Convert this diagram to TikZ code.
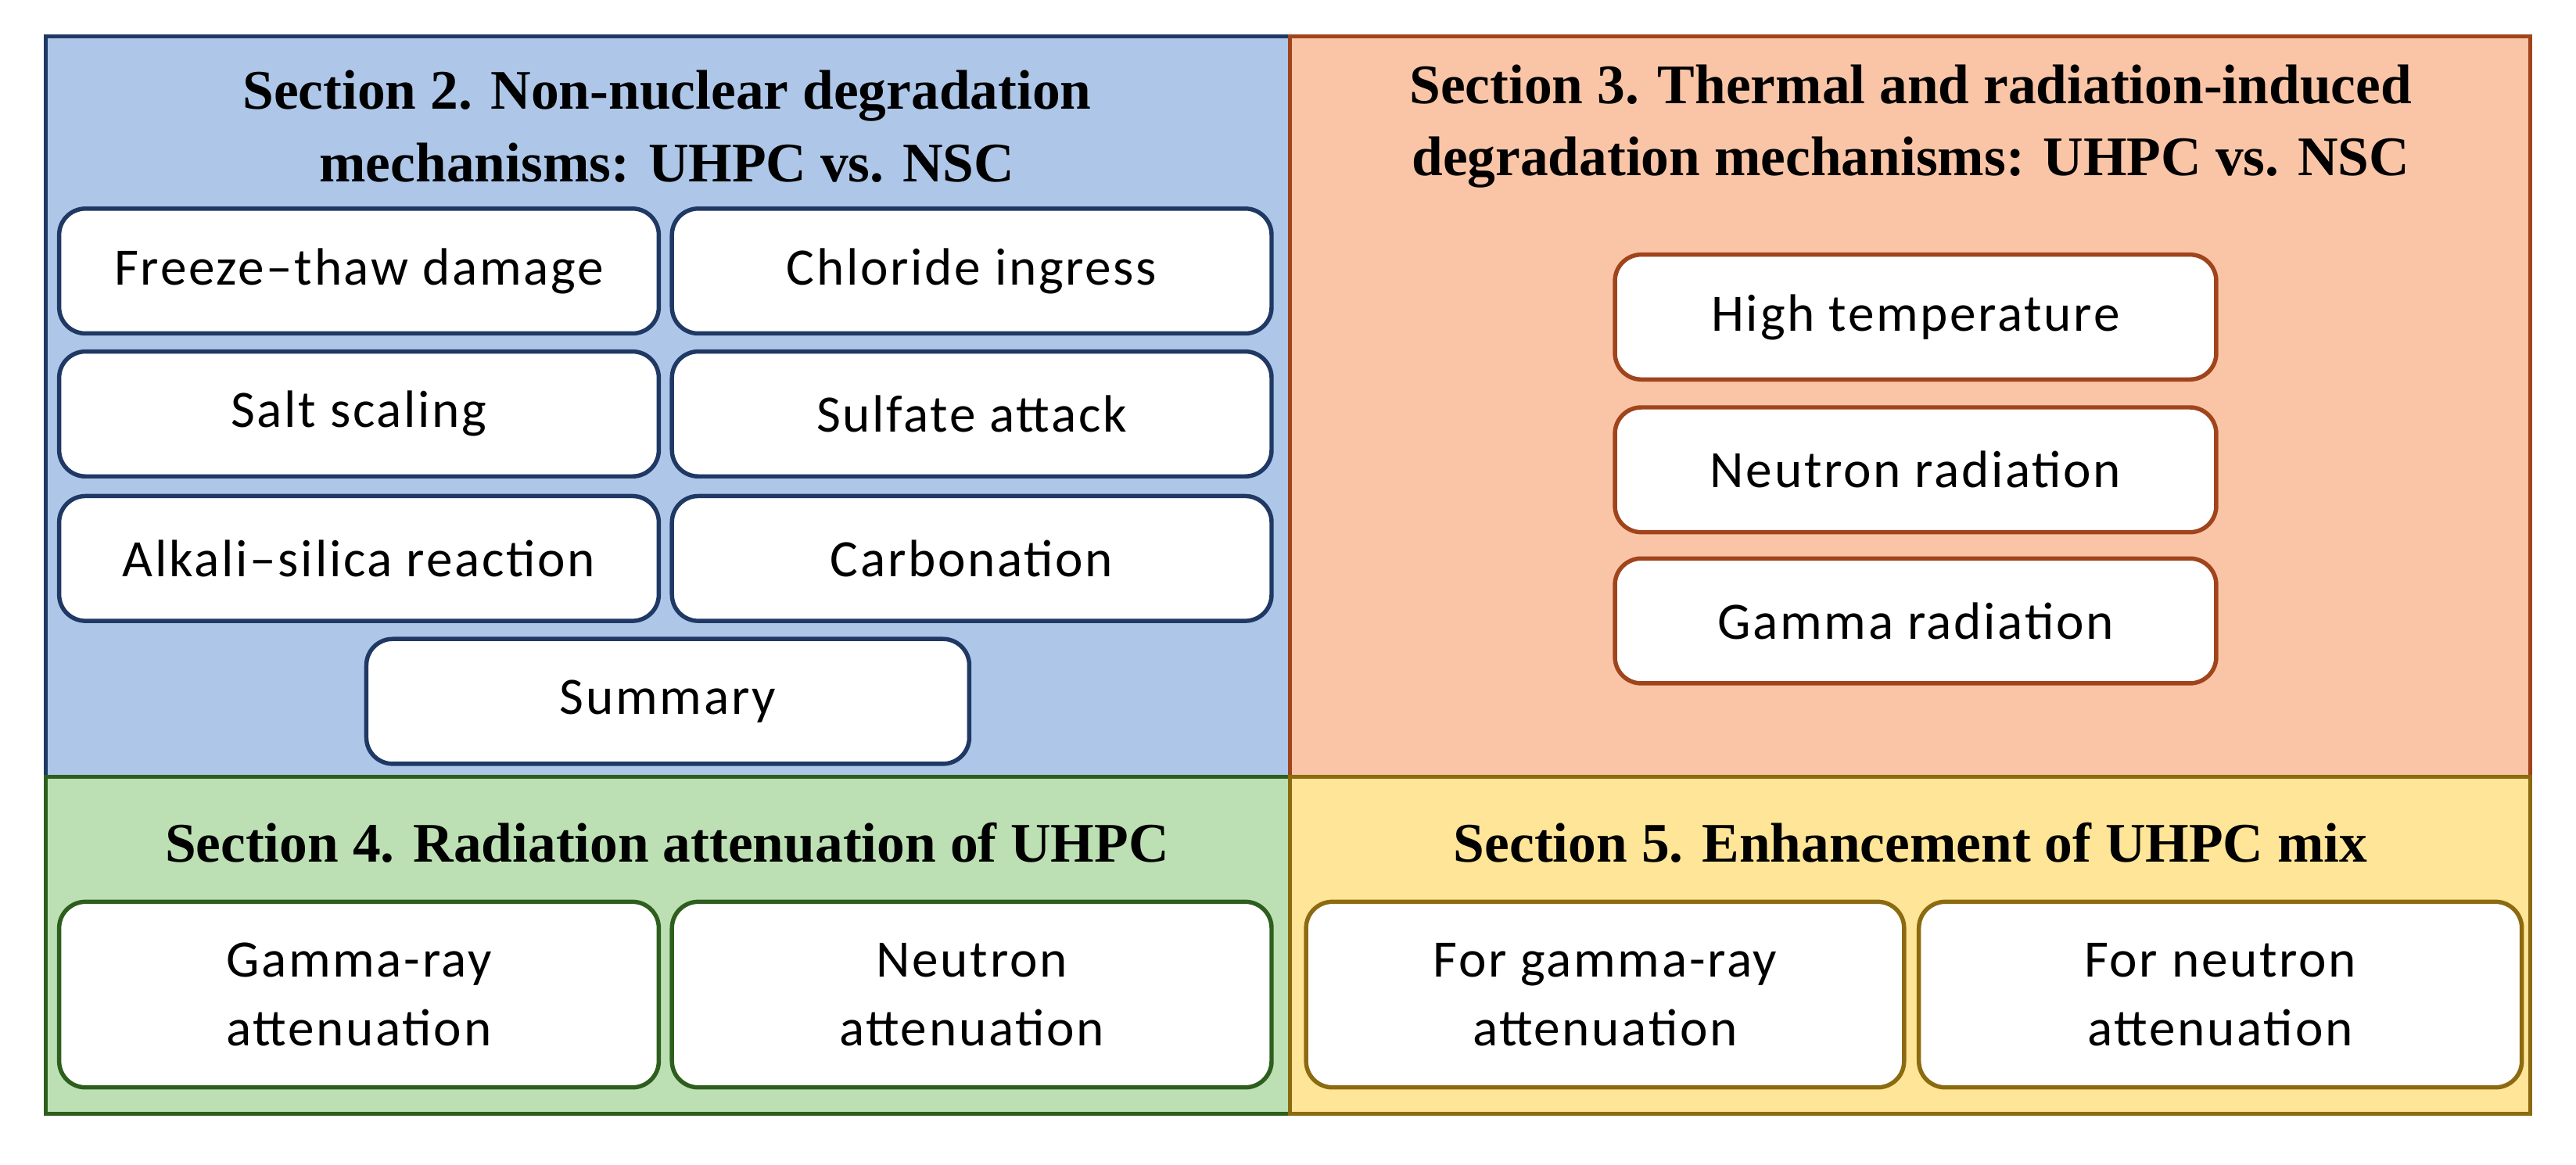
\documentclass[tikz,border=0pt]{standalone}
\usepackage{fontspec}
\setmainfont{Liberation Serif}
\newfontfamily\bodyf{Carlito}[LetterSpace=4]
\begin{document}
\begin{tikzpicture}[x=0.5pt,y=-0.5pt,
 panel/.style={draw=#1,line width=1.2pt},
 box/.style={draw=#1,fill=white,rounded corners=8pt,line width=1.3pt},
 btxt/.style={font=\bodyf\fontsize{16}{21}\selectfont,align=center},
 ttl/.style={font=\bfseries\fontsize{17}{22}\selectfont,align=center}]
\definecolor{bfill}{HTML}{AEC7E8}\definecolor{bdraw}{HTML}{1F3864}
\definecolor{ofill}{HTML}{F9C5A6}\definecolor{odraw}{HTML}{A0441C}
\definecolor{gfill}{HTML}{BCE0B3}\definecolor{gdraw}{HTML}{2E5E1E}
\definecolor{yfill}{HTML}{FFE597}\definecolor{ydraw}{HTML}{8C6A10}
\useasboundingbox (0,0) rectangle (1568,709);
\fill[white] (0,0) rectangle (1568,709);
\fill[bfill] (28,22) rectangle (785,473);
\fill[ofill] (785,22) rectangle (1540,473);
\fill[gfill] (28,473) rectangle (785,678);
\fill[yfill] (785,473) rectangle (1540,678);
\draw[panel=bdraw] (28,22) rectangle (785,473);
\draw[panel=odraw] (785,22) rectangle (1540,473);
\draw[panel=gdraw] (28,473) rectangle (785,678);
\draw[panel=ydraw] (785,473) rectangle (1540,678);
\node[ttl] (t2) at (406,77) {Section 2. Non-nuclear degradation\\mechanisms: UHPC vs. NSC};
\node[ttl] (t3) at (1163,77) {Section 3. Thermal and radiation-induced\\degradation mechanisms: UHPC vs. NSC};
\node[ttl] (t4) at (406,513) {Section 4. Radiation attenuation of UHPC};
\node[ttl] (t5) at (1163,513) {Section 5. Enhancement of UHPC mix};
% blue
\foreach \n/\x/\y/\t in {a/36/127/{Freeze–thaw damage},b/409/127/{Chloride ingress},c/36/214/{Salt scaling},d/409/214/{Sulfate attack},e/36/302/{Alkali–silica reaction},f/409/302/{Carbonation}}{
 \draw[box=bdraw] (\x,\y) rectangle ++(365,76);
 \node[btxt] (\n) at (\x+182.5,\y+38) {\t};}
\draw[box=bdraw] (223,389) rectangle (590,465);
\node[btxt] (sum) at (406.5,427) {Summary};
% orange
\foreach \n/\y/\t in {h/155/{High temperature},nr/248/{Neutron radiation},gr/340/{Gamma radiation}}{
 \draw[box=odraw] (983,\y) rectangle ++(366,76);
 \node[btxt] (\n) at (1166,\y+38) {\t};}
% green
\draw[box=gdraw] (36,549) rectangle (401,662);
\node[btxt] (g1) at (218.5,605.5) {Gamma-ray\\attenuation};
\draw[box=gdraw] (409,549) rectangle (774,662);
\node[btxt] (g2) at (591.5,605.5) {Neutron\\attenuation};
% yellow
\draw[box=ydraw] (795,549) rectangle (1159,662);
\node[btxt] (y1) at (977,605.5) {For gamma-ray\\attenuation};
\draw[box=ydraw] (1168,549) rectangle (1535,662);
\node[btxt] (y2) at (1351.5,605.5) {For neutron\\attenuation};
\end{tikzpicture}
\end{document}
